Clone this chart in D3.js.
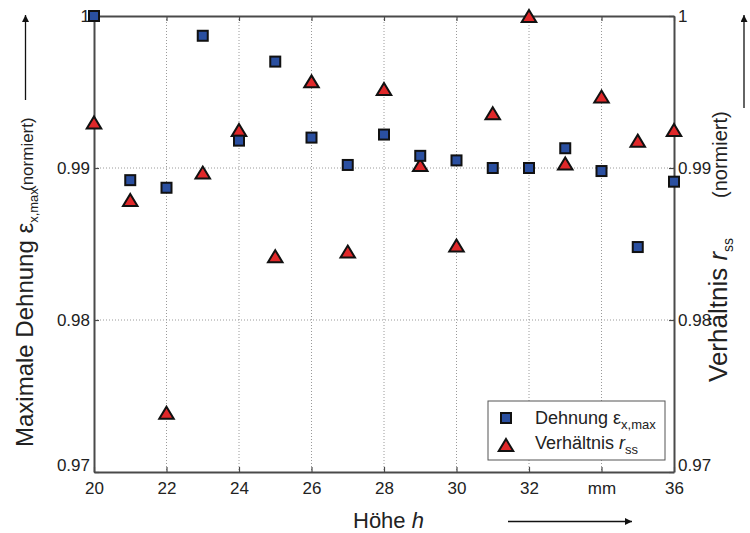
<!DOCTYPE html>
<html><head><meta charset="utf-8">
<script src="https://cdn.jsdelivr.net/npm/d3@7"></script>
<style>
body{margin:0;background:#fff;}
text{font-family:"Liberation Sans",Arial,sans-serif;fill:#222;}
</style></head>
<body>
<svg id="chart" width="750" height="533"></svg>
<script>
const heights = [20,21,22,23,24,25,26,27,28,29,30,31,32,33,34,35,36];
const dehnung = [1.0,0.9892,0.9887,0.9987,0.9918,0.9970,0.9920,0.9902,0.9922,0.9908,0.9905,0.9900,0.9900,0.9913,0.9898,0.9848,0.9891];
const verhaeltnis = [0.9930,0.9879,0.9739,0.9897,0.9925,0.9842,0.9957,0.9845,0.9952,0.9902,0.9849,0.9936,1.0,0.9903,0.9947,0.9918,0.9925];
const xTicks = [20,22,24,26,28,30,32,34,36];
const xTickLabels = ["20","22","24","26","28","30","32","mm","36"];
const yTicks = [0.97,0.98,0.99,1.0];
const yTickLabels = ["0.97","0.98","0.99","1"];

const svg = d3.select("#chart");
const L=94,R=674,T=16,B=472;
const x = d3.scaleLinear().domain([20,36]).range([L,R]);
const y = d3.scaleLinear().domain([0.97,1.0]).range([B,T]);
const axisCol="#4a4a4a";

// grid
svg.append("g").selectAll("line").data(xTicks.slice(1,-1)).join("line")
  .attr("x1",d=>x(d)).attr("x2",d=>x(d)).attr("y1",T).attr("y2",B)
  .attr("stroke","#9a9a9a").attr("stroke-width",1).attr("stroke-dasharray","1,2");
svg.append("g").selectAll("line").data(yTicks.slice(1,-1)).join("line")
  .attr("x1",L).attr("x2",R).attr("y1",d=>y(d)).attr("y2",d=>y(d))
  .attr("stroke","#9a9a9a").attr("stroke-width",1).attr("stroke-dasharray","1,2");

// axes with inward ticks
const fmtX = d=>xTickLabels[xTicks.indexOf(d)];
const fmtY = d=>yTickLabels[yTicks.indexOf(d)];
const gB = svg.append("g").attr("transform",`translate(0,${B})`)
  .call(d3.axisBottom(x).tickValues(xTicks).tickFormat(fmtX).tickSizeInner(-5).tickSizeOuter(0).tickPadding(7));
const gTp = svg.append("g").attr("transform",`translate(0,${T})`)
  .call(d3.axisTop(x).tickValues(xTicks).tickFormat("").tickSizeInner(-5).tickSizeOuter(0));
const gL = svg.append("g").attr("transform",`translate(${L},0)`)
  .call(d3.axisLeft(y).tickValues(yTicks).tickFormat(fmtY).tickSizeInner(-5).tickSizeOuter(0).tickPadding(4));
const gR = svg.append("g").attr("transform",`translate(${R},0)`)
  .call(d3.axisRight(y).tickValues(yTicks).tickFormat(fmtY).tickSizeInner(-5).tickSizeOuter(0).tickPadding(4));
[gB,gTp,gL,gR].forEach(g=>{
  g.select(".domain").attr("stroke",axisCol).attr("stroke-width",2);
  g.selectAll(".tick line").attr("stroke",axisCol).attr("stroke-width",1.2);
  g.selectAll("text").attr("font-size",17).attr("font-family","Liberation Sans, Arial, sans-serif").attr("fill","#222");
});
gB.selectAll("text").attr("dy","0.9em");
gL.selectAll(".tick").filter(d=>d===0.97).select("text").attr("dy","-0.1em");
gR.selectAll(".tick").filter(d=>d===0.97).select("text").attr("dy","-0.1em");

// markers
const sq = 10;
const triPath = (w,h)=>`M0,${-h/2}L${w/2},${h/2}L${-w/2},${h/2}Z`;
svg.append("g").selectAll("path").data(heights).join("path")
  .attr("d",triPath(14.5,12))
  .attr("transform",(d,i)=>`translate(${x(d)},${y(verhaeltnis[i])})`)
  .attr("fill","#e0282a").attr("stroke","#111").attr("stroke-width",2).attr("stroke-linejoin","miter");
svg.append("g").selectAll("rect").data(heights).join("rect")
  .attr("x",d=>x(d)-sq/2).attr("y",(d,i)=>y(dehnung[i])-sq/2)
  .attr("width",sq).attr("height",sq)
  .attr("fill","#2a4fa0").attr("stroke","#111").attr("stroke-width",2);

// legend
const lg = svg.append("g");
lg.append("rect").attr("x",488).attr("y",401).attr("width",177).attr("height",59)
  .attr("fill","#fff").attr("stroke","#555").attr("stroke-width",1);
lg.append("rect").attr("x",506-sq/2).attr("y",418-sq/2).attr("width",sq).attr("height",sq)
  .attr("fill","#2a4fa0").attr("stroke","#111").attr("stroke-width",2);
lg.append("path").attr("d",triPath(14.5,12)).attr("transform","translate(506,445)")
  .attr("fill","#e0282a").attr("stroke","#111").attr("stroke-width",2);
const t1 = lg.append("text").attr("x",535).attr("y",424).attr("font-size",18);
t1.append("tspan").text("Dehnung ");
t1.append("tspan").text("ε");
t1.append("tspan").attr("font-size",13).attr("dy",5).text("x,max");
const t2 = lg.append("text").attr("x",535).attr("y",449).attr("font-size",18);
t2.append("tspan").text("Verhältnis ");
t2.append("tspan").attr("font-style","italic").text("r");
t2.append("tspan").attr("font-size",13).attr("dy",5).text("ss");

// axis titles
const lt = svg.append("text").attr("transform","translate(33,447) rotate(-90)").attr("font-size",24);
lt.append("tspan").text("Maximale Dehnung ");
lt.append("tspan").text("ε");
lt.append("tspan").attr("font-size",13).attr("dy",5).text("x,max");
svg.append("text").attr("transform","translate(33,191) rotate(-90)").attr("font-size",17).text("(normiert)");

const rt = svg.append("text").attr("transform","translate(727,382) rotate(-90)").attr("font-size",26);
rt.append("tspan").text("Verhältnis ");
rt.append("tspan").attr("font-style","italic").text("r");
rt.append("tspan").attr("font-size",14).attr("dy",6).text("ss");
svg.append("text").attr("transform","translate(727,198) rotate(-90)").attr("font-size",20).text("(normiert)");

svg.append("text").attr("x",353).attr("y",528).attr("font-size",22)
  .call(t=>{t.append("tspan").text("Höhe ");t.append("tspan").attr("font-style","italic").text("h");});

// arrows
const defs = svg.append("defs");
defs.append("marker").attr("id","ah").attr("viewBox","0 0 10 10").attr("refX",10).attr("refY",5)
  .attr("markerWidth",10).attr("markerHeight",7).attr("markerUnits","userSpaceOnUse").attr("orient","auto")
  .append("path").attr("d","M0,0L10,5L0,10Z").attr("fill","#111");
const arrow=(x1,y1,x2,y2)=>svg.append("line").attr("x1",x1).attr("y1",y1).attr("x2",x2).attr("y2",y2)
  .attr("stroke","#111").attr("stroke-width",1.3).attr("marker-end","url(#ah)");
arrow(25.5,100,25.5,15);
arrow(744,108,744,15);
arrow(508,521.5,632,521.5);
</script>
</body></html>
